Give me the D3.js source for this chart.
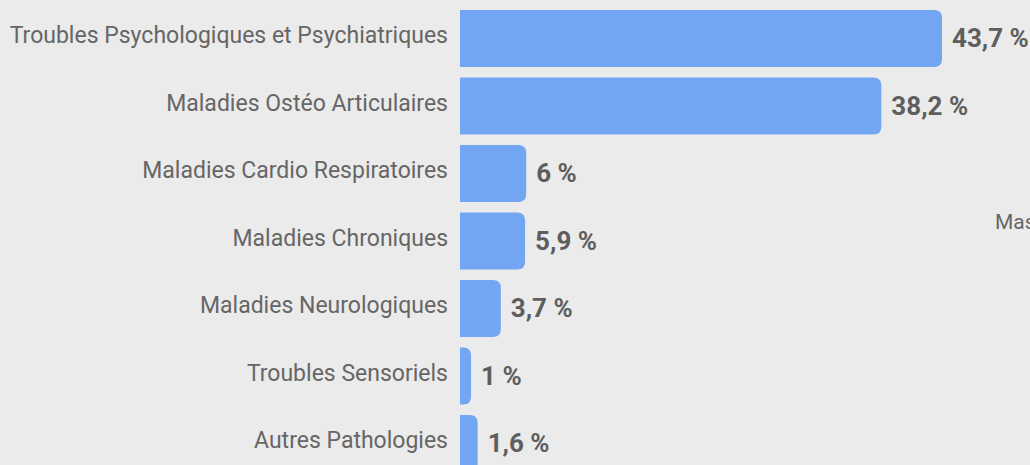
<!DOCTYPE html>
<html><head><meta charset="utf-8">
<script src="https://cdn.jsdelivr.net/npm/d3@7"></script>
<style>
html,body{margin:0;padding:0;background:#ebebeb;overflow:hidden;}
svg{display:block;}
</style></head>
<body>
<svg id="chart" width="1030" height="465"></svg>
<script>
const categories = ["Troubles Psychologiques et Psychiatriques","Maladies Ostéo Articulaires","Maladies Cardio Respiratoires","Maladies Chroniques","Maladies Neurologiques","Troubles Sensoriels","Autres Pathologies"];
const values = [43.7, 38.2, 6, 5.9, 3.7, 1, 1.6];
const valueLabels = ["43,7 %","38,2 %","6 %","5,9 %","3,7 %","1 %","1,6 %"];
const legendLabels = ["Masculin"];

const svg = d3.select("#chart");
const x0 = 460;
const x = d3.scaleLinear().domain([0, 43.7]).range([x0, 942]);
const step = 67.5, pad = 0.155;
const y = d3.scaleBand().domain(categories).range([10, 10 + step*(categories.length - pad)]).paddingInner(pad).paddingOuter(0);
const font = "Roboto, 'Noto Sans', sans-serif";

function barPath(x1, x2, y1, h, r) {
  const w = x2 - x1;
  r = Math.min(r, w, h/2);
  return `M${x1},${y1} H${x2-r} Q${x2},${y1} ${x2},${y1+r} V${y1+h-r} Q${x2},${y1+h} ${x2-r},${y1+h} H${x1} Z`;
}

const data = categories.map((c,i)=>({c, v: values[i], l: valueLabels[i]}));

svg.selectAll("path.bar").data(data).join("path")
  .attr("class","bar")
  .attr("fill","#73a6f2")
  .attr("d", d => barPath(x(0), x(d.v), y(d.c), y.bandwidth(), 8));

svg.selectAll("text.cat").data(data).join("text")
  .attr("class","cat")
  .attr("x", 448)
  .attr("y", d => y(d.c) + y.bandwidth()/2 + 4.5)
  .attr("text-anchor","end")
  .attr("font-family", font)
  .attr("font-size", 23)
  .attr("fill","#666666")
  .text(d => d.c);

svg.selectAll("text.val").data(data).join("text")
  .attr("class","val")
  .attr("x", d => x(d.v) + 10)
  .attr("y", d => y(d.c) + y.bandwidth()/2 + 8.5)
  .attr("font-family", font)
  .attr("font-weight", "bold")
  .attr("font-size", 26)
  .attr("fill","#5e5e5e")
  .text(d => d.l);

svg.append("text")
  .attr("x", 995).attr("y", 229)
  .attr("font-family", font).attr("font-size", 21).attr("fill","#666666")
  .text(legendLabels[0]);
</script>
</body></html>
